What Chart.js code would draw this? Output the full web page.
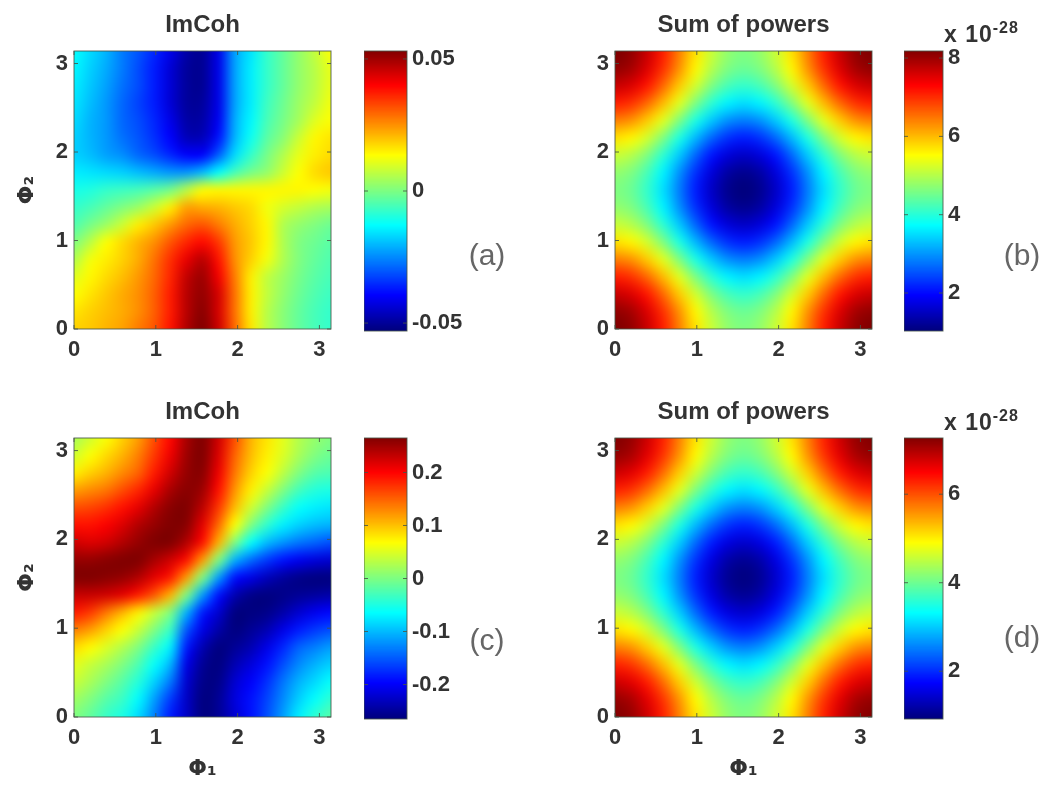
<!DOCTYPE html>
<html>
<head>
<meta charset="utf-8">
<title>ImCoh and sum of powers</title>
<script src="https://cdn.jsdelivr.net/npm/chart.js@4"></script>
<style>
    body { margin: 0; background: #fff; width: 1050px; height: 787px; position: relative; overflow: hidden; }
    canvas { position: absolute; filter: blur(0.6px); }
    .panelTag { position: absolute; font: 30px "Liberation Sans", Arial, sans-serif; color: #666; transform: translate(-50%, -50%); filter: blur(0.4px); }
    .expo { position: absolute; font: bold 23px "Liberation Sans", Arial, sans-serif; letter-spacing: 1px; color: #333; filter: blur(0.5px); }
    .expo sup { font-size: 16px; line-height: 0; }
</style>
</head>
<body>
<script>
// Grid nodes of the maps (phi, rows go from phi2 = 0 upwards)
const phiGrid = [0, 0.196, 0.393, 0.589, 0.785, 0.982, 1.178, 1.374, 1.571, 1.767, 1.963, 2.16, 2.356, 2.553, 2.749, 2.945, 3.142];
const phiTicks = [0, 1, 2, 3];

// Panel (a), ImCoh, in units of 0.001
const imCohA = [
    [18, 19, 21, 23, 27, 31, 38, 48, 53, 45, 29, 16, 6, 1, -3, -6, -8],
    [16, 18, 20, 22, 25, 30, 37, 47, 52, 44, 28, 15, 6, 1, -3, -6, -8],
    [13, 16, 19, 22, 25, 30, 37, 47, 51, 44, 28, 15, 7, 2, -2, -5, -7],
    [10, 14, 17, 20, 24, 29, 36, 46, 50, 41, 27, 15, 7, 3, -1, -4, -6],
    [5, 12, 15, 18, 22, 28, 35, 42, 47, 38, 25, 18, 12, 5, 0, -3, -5],
    [0, 6, 13, 17, 21, 25, 31, 36, 39, 34, 24, 19, 14, 5, 0, -2, -4],
    [-5, -1, 3, 8, 15, 19, 24, 29, 31, 27, 22, 18, 14, 5, 2, 0, -2],
    [-8, -6, -3, 0, 3, 8, 15, 23, 22, 21, 19, 17, 12, 9, 7, 5, 4],
    [-11, -10, -8, -7, -6, -4, -1, 6, 13, 14, 14, 14, 14, 14, 14, 13, 12],
    [-15, -16, -17, -18, -20, -22, -24, -24, -20, -13, -6, -1, 2, 8, 13, 17, 19],
    [-18, -20, -23, -25, -29, -32, -36, -40, -40, -30, -17, -8, -1, 5, 11, 15, 17],
    [-18, -21, -24, -28, -31, -35, -40, -47, -47, -38, -21, -12, -4, 1, 8, 14, 16],
    [-17, -21, -24, -29, -32, -36, -42, -49, -49, -41, -22, -14, -6, -1, 4, 10, 13],
    [-16, -20, -24, -29, -33, -37, -44, -50, -50, -42, -23, -15, -7, -2, 3, 7, 12],
    [-15, -19, -23, -28, -32, -37, -44, -50, -51, -42, -23, -15, -8, -3, 2, 6, 11],
    [-14, -18, -22, -27, -32, -37, -44, -50, -51, -42, -23, -15, -8, -3, 2, 6, 11],
    [-13, -17, -21, -27, -31, -36, -42, -49, -51, -42, -23, -16, -8, -3, 2, 7, 13]
];

// Panel (b), sum of powers, in units of 1e-28
const powerB = [
    [8.2, 8.06, 7.67, 7.09, 6.4, 5.71, 5.13, 4.74, 4.6, 4.74, 5.13, 5.71, 6.4, 7.09, 7.67, 8.06, 8.2],
    [8.06, 7.92, 7.53, 6.95, 6.26, 5.57, 4.99, 4.6, 4.46, 4.6, 4.99, 5.57, 6.26, 6.95, 7.53, 7.92, 8.06],
    [7.67, 7.53, 7.14, 6.56, 5.87, 5.18, 4.6, 4.21, 4.07, 4.21, 4.6, 5.18, 5.87, 6.56, 7.14, 7.53, 7.67],
    [7.09, 6.95, 6.56, 5.98, 5.29, 4.6, 4.02, 3.63, 3.49, 3.63, 4.02, 4.6, 5.29, 5.98, 6.56, 6.95, 7.09],
    [6.4, 6.26, 5.87, 5.29, 4.6, 3.91, 3.33, 2.94, 2.8, 2.94, 3.33, 3.91, 4.6, 5.29, 5.87, 6.26, 6.4],
    [5.71, 5.57, 5.18, 4.6, 3.91, 3.22, 2.64, 2.25, 2.11, 2.25, 2.64, 3.22, 3.91, 4.6, 5.18, 5.57, 5.71],
    [5.13, 4.99, 4.6, 4.02, 3.33, 2.64, 2.06, 1.67, 1.53, 1.67, 2.06, 2.64, 3.33, 4.02, 4.6, 4.99, 5.13],
    [4.74, 4.6, 4.21, 3.63, 2.94, 2.25, 1.67, 1.28, 1.14, 1.28, 1.67, 2.25, 2.94, 3.63, 4.21, 4.6, 4.74],
    [4.6, 4.46, 4.07, 3.49, 2.8, 2.11, 1.53, 1.14, 1.0, 1.14, 1.53, 2.11, 2.8, 3.49, 4.07, 4.46, 4.6],
    [4.74, 4.6, 4.21, 3.63, 2.94, 2.25, 1.67, 1.28, 1.14, 1.28, 1.67, 2.25, 2.94, 3.63, 4.21, 4.6, 4.74],
    [5.13, 4.99, 4.6, 4.02, 3.33, 2.64, 2.06, 1.67, 1.53, 1.67, 2.06, 2.64, 3.33, 4.02, 4.6, 4.99, 5.13],
    [5.71, 5.57, 5.18, 4.6, 3.91, 3.22, 2.64, 2.25, 2.11, 2.25, 2.64, 3.22, 3.91, 4.6, 5.18, 5.57, 5.71],
    [6.4, 6.26, 5.87, 5.29, 4.6, 3.91, 3.33, 2.94, 2.8, 2.94, 3.33, 3.91, 4.6, 5.29, 5.87, 6.26, 6.4],
    [7.09, 6.95, 6.56, 5.98, 5.29, 4.6, 4.02, 3.63, 3.49, 3.63, 4.02, 4.6, 5.29, 5.98, 6.56, 6.95, 7.09],
    [7.67, 7.53, 7.14, 6.56, 5.87, 5.18, 4.6, 4.21, 4.07, 4.21, 4.6, 5.18, 5.87, 6.56, 7.14, 7.53, 7.67],
    [8.06, 7.92, 7.53, 6.95, 6.26, 5.57, 4.99, 4.6, 4.46, 4.6, 4.99, 5.57, 6.26, 6.95, 7.53, 7.92, 8.06],
    [8.2, 8.06, 7.67, 7.09, 6.4, 5.71, 5.13, 4.74, 4.6, 4.74, 5.13, 5.71, 6.4, 7.09, 7.67, 8.06, 8.2]
];

// Panel (c), ImCoh, in units of 0.001
const imCohC = [
    [0, -16, -37, -53, -85, -133, -186, -228, -265, -254, -223, -191, -159, -117, -74, -42, -21],
    [16, 0, -21, -37, -69, -117, -170, -228, -265, -254, -217, -191, -164, -127, -90, -64, -42],
    [37, 21, 0, -21, -48, -90, -138, -223, -260, -260, -223, -201, -175, -138, -106, -85, -64],
    [53, 37, 21, 0, -27, -64, -106, -212, -254, -265, -239, -217, -191, -159, -127, -106, -90],
    [85, 69, 48, 27, 0, -37, -74, -186, -239, -265, -254, -239, -212, -180, -148, -133, -117],
    [133, 117, 90, 64, 37, 0, -37, -154, -212, -244, -265, -254, -239, -212, -186, -170, -159],
    [186, 170, 138, 106, 74, 37, 0, -106, -186, -223, -265, -265, -260, -244, -223, -207, -196],
    [228, 228, 223, 212, 186, 154, 106, 0, -117, -191, -239, -260, -265, -260, -254, -249, -244],
    [265, 265, 260, 254, 239, 212, 186, 117, 0, -117, -191, -212, -233, -249, -260, -265, -265],
    [254, 254, 260, 265, 265, 244, 223, 191, 117, 0, -106, -143, -170, -191, -207, -217, -223],
    [223, 217, 223, 239, 254, 265, 265, 239, 191, 106, 0, -64, -101, -122, -138, -148, -159],
    [191, 191, 201, 217, 239, 254, 265, 260, 212, 143, 64, 0, -42, -74, -90, -101, -106],
    [159, 164, 175, 191, 212, 239, 260, 265, 233, 170, 101, 42, 0, -37, -64, -74, -80],
    [117, 127, 138, 159, 180, 212, 244, 260, 249, 191, 122, 74, 37, 0, -32, -48, -53],
    [74, 90, 106, 127, 148, 186, 223, 254, 260, 207, 138, 90, 64, 32, 0, -21, -27],
    [42, 64, 85, 106, 133, 170, 207, 249, 265, 217, 148, 101, 74, 48, 21, 0, -11],
    [21, 42, 64, 90, 117, 159, 196, 244, 265, 223, 159, 106, 80, 53, 27, 11, 0]
];

// Panel (d), sum of powers, in units of 1e-28
const powerD = [
    [7.26, 7.13, 6.78, 6.28, 5.68, 5.07, 4.57, 4.22, 4.09, 4.22, 4.57, 5.07, 5.68, 6.28, 6.78, 7.13, 7.26],
    [7.13, 7.0, 6.65, 6.15, 5.55, 4.94, 4.44, 4.09, 3.96, 4.09, 4.44, 4.94, 5.55, 6.15, 6.65, 7.0, 7.13],
    [6.78, 6.65, 6.3, 5.8, 5.2, 4.59, 4.09, 3.74, 3.61, 3.74, 4.09, 4.59, 5.2, 5.8, 6.3, 6.65, 6.78],
    [6.28, 6.15, 5.8, 5.3, 4.7, 4.09, 3.59, 3.24, 3.11, 3.24, 3.59, 4.09, 4.7, 5.3, 5.8, 6.15, 6.28],
    [5.68, 5.55, 5.2, 4.7, 4.1, 3.49, 2.99, 2.64, 2.51, 2.64, 2.99, 3.49, 4.1, 4.7, 5.2, 5.55, 5.68],
    [5.07, 4.94, 4.59, 4.09, 3.49, 2.88, 2.38, 2.03, 1.9, 2.03, 2.38, 2.88, 3.49, 4.09, 4.59, 4.94, 5.07],
    [4.57, 4.44, 4.09, 3.59, 2.99, 2.38, 1.88, 1.53, 1.4, 1.53, 1.88, 2.38, 2.99, 3.59, 4.09, 4.44, 4.57],
    [4.22, 4.09, 3.74, 3.24, 2.64, 2.03, 1.53, 1.18, 1.05, 1.18, 1.53, 2.03, 2.64, 3.24, 3.74, 4.09, 4.22],
    [4.09, 3.96, 3.61, 3.11, 2.51, 1.9, 1.4, 1.05, 0.92, 1.05, 1.4, 1.9, 2.51, 3.11, 3.61, 3.96, 4.09],
    [4.22, 4.09, 3.74, 3.24, 2.64, 2.03, 1.53, 1.18, 1.05, 1.18, 1.53, 2.03, 2.64, 3.24, 3.74, 4.09, 4.22],
    [4.57, 4.44, 4.09, 3.59, 2.99, 2.38, 1.88, 1.53, 1.4, 1.53, 1.88, 2.38, 2.99, 3.59, 4.09, 4.44, 4.57],
    [5.07, 4.94, 4.59, 4.09, 3.49, 2.88, 2.38, 2.03, 1.9, 2.03, 2.38, 2.88, 3.49, 4.09, 4.59, 4.94, 5.07],
    [5.68, 5.55, 5.2, 4.7, 4.1, 3.49, 2.99, 2.64, 2.51, 2.64, 2.99, 3.49, 4.1, 4.7, 5.2, 5.55, 5.68],
    [6.28, 6.15, 5.8, 5.3, 4.7, 4.09, 3.59, 3.24, 3.11, 3.24, 3.59, 4.09, 4.7, 5.3, 5.8, 6.15, 6.28],
    [6.78, 6.65, 6.3, 5.8, 5.2, 4.59, 4.09, 3.74, 3.61, 3.74, 4.09, 4.59, 5.2, 5.8, 6.3, 6.65, 6.78],
    [7.13, 7.0, 6.65, 6.15, 5.55, 4.94, 4.44, 4.09, 3.96, 4.09, 4.44, 4.94, 5.55, 6.15, 6.65, 7.0, 7.13],
    [7.26, 7.13, 6.78, 6.28, 5.68, 5.07, 4.57, 4.22, 4.09, 4.22, 4.57, 5.07, 5.68, 6.28, 6.78, 7.13, 7.26]
];

// Colour bar ranges and ticks
const rangeA = [-53, 53];
const rangeB = [1.03, 8.18];
const rangeC = [-265, 265];
const rangeD = [0.92, 7.27];
const cbarTicksA = [-50, 0, 50];
const cbarTicksB = [2, 4, 6, 8];
const cbarTicksC = [-200, -100, 0, 100, 200];
const cbarTicksD = [2, 4, 6];

const tickFont = { family: '"Liberation Sans", Arial, sans-serif', size: 22, weight: 'bold' };
const phiFont = { family: '"DejaVu Sans"', size: 22, weight: 'bold' };
const textColor = '#333';
const frameColor = 'rgba(70, 85, 70, 0.85)';
const colorLevels = 256;

function jet(t) {
    const c = v => Math.round(255 * Math.min(1, Math.max(0, v)));
    return `rgb(${c(1.5 - Math.abs(4 * t - 3))},${c(1.5 - Math.abs(4 * t - 2))},${c(1.5 - Math.abs(4 * t - 1))})`;
}

function addCanvas(left, top, width, height) {
    const canvas = document.createElement('canvas');
    canvas.width = width;
    canvas.height = height;
    canvas.style.left = left + 'px';
    canvas.style.top = top + 'px';
    canvas.style.width = width + 'px';
    canvas.style.height = height + 'px';
    document.body.appendChild(canvas);
    return canvas;
}

// Frame with short inward ticks, matlab style
const framePlugin = {
    id: 'frame',
    afterDatasetsDraw(chart) {
        const { ctx, chartArea: a, scales } = chart;
        ctx.save();
        ctx.strokeStyle = frameColor;
        ctx.lineWidth = 1;
        ctx.strokeRect(a.left, a.top, a.right - a.left, a.bottom - a.top);
        ctx.beginPath();
        scales.y.ticks.forEach(t => {
            const y = scales.y.getPixelForValue(t.value);
            ctx.moveTo(a.left, y); ctx.lineTo(a.left + 4, y);
            ctx.moveTo(a.right, y); ctx.lineTo(a.right - 4, y);
        });
        if (scales.x.type === 'linear') {
            scales.x.ticks.forEach(t => {
                const x = scales.x.getPixelForValue(t.value);
                ctx.moveTo(x, a.bottom); ctx.lineTo(x, a.bottom - 4);
                ctx.moveTo(x, a.top); ctx.lineTo(x, a.top + 4);
            });
        }
        ctx.stroke();
        ctx.restore();
    }
};

// Interpolated shading: takes the cells the library placed and blends their colours
const smoothPlugin = {
    id: 'smooth',
    afterDatasetsDraw(chart) {
        const { ctx, chartArea: a } = chart;
        const cells = chart.getDatasetMeta(0).data;
        const n = phiGrid.length;
        const small = document.createElement('canvas');
        small.width = n;
        small.height = n;
        const sctx = small.getContext('2d');
        cells.forEach((el, k) => {
            sctx.fillStyle = el.options.backgroundColor;
            sctx.fillRect(k % n, n - 1 - Math.floor(k / n), 1, 1);
        });
        const first = cells[0];
        const last = cells[cells.length - 1];
        const dx = (last.x - first.x) / (n - 1);
        const dy = (first.y - last.y) / (n - 1);
        ctx.save();
        ctx.beginPath();
        ctx.rect(a.left, a.top, a.right - a.left, a.bottom - a.top);
        ctx.clip();
        ctx.imageSmoothingEnabled = true;
        ctx.imageSmoothingQuality = 'high';
        ctx.filter = 'blur(1.5px)';
        ctx.drawImage(small, first.x - dx / 2, last.y - dy / 2, dx * n, dy * n);
        ctx.restore();
    }
};

function fixTicks(values) {
    return scale => { scale.ticks = values.map(v => ({ value: v })); };
}

function heatMap(left, top, height, axisHeight, title, grid, range, yTitle, xTitle) {
    const points = [];
    grid.forEach((row, j) => row.forEach((value, i) => {
        points.push({ x: phiGrid[i], y: phiGrid[j], v: value });
    }));
    new Chart(addCanvas(left, top, 345, height), {
        type: 'scatter',
        data: {
            datasets: [{
                data: points,
                clip: 0,
                pointStyle: 'rect',
                pointBorderWidth: 0,
                backgroundColor: c => jet((c.raw.v - range[0]) / (range[1] - range[0])),
                pointRadius: c => {
                    const s = c.chart.scales;
                    const dx = Math.abs(s.x.getPixelForValue(phiGrid[1]) - s.x.getPixelForValue(0));
                    const dy = Math.abs(s.y.getPixelForValue(phiGrid[1]) - s.y.getPixelForValue(0));
                    return (Math.max(dx, dy) / 2 + 1) / Math.SQRT1_2;
                }
            }]
        },
        options: {
            responsive: false,
            animation: false,
            events: [],
            layout: { padding: { right: 14 } },
            plugins: {
                legend: { display: false },
                tooltip: { enabled: false },
                title: {
                    display: true,
                    fullSize: false,
                    text: title,
                    color: textColor,
                    font: { family: tickFont.family, size: 24, weight: 'bold', lineHeight: '26px' },
                    padding: { top: 12, bottom: 13 }
                }
            },
            scales: {
                x: {
                    type: 'linear', min: 0, max: Math.PI,
                    grid: { display: false, drawTicks: false }, border: { display: false },
                    afterBuildTicks: fixTicks(phiTicks),
                    afterFit: s => { s.height = axisHeight; },
                    ticks: { font: tickFont, color: textColor, padding: 8, maxRotation: 0, callback: v => v },
                    title: { display: !!xTitle, text: xTitle, color: textColor, font: phiFont, padding: { top: 2, bottom: 0 } }
                },
                y: {
                    type: 'linear', min: 0, max: Math.PI,
                    grid: { display: false, drawTicks: false }, border: { display: false },
                    afterBuildTicks: fixTicks(phiTicks),
                    afterFit: s => { s.width = 74; },
                    ticks: { font: tickFont, color: textColor, padding: 6, callback: v => v },
                    title: { display: !!yTitle, text: yTitle, color: textColor, font: phiFont, padding: { top: 14, bottom: 0 } }
                }
            }
        },
        plugins: [smoothPlugin, framePlugin]
    });
}

function colorBar(left, top, height, range, ticks, barWidth, format) {
    const step = (range[1] - range[0]) / colorLevels;
    const bands = [];
    for (let k = 0; k < colorLevels; k++) {
        bands.push({
            data: [[range[0] + k * step, range[0] + (k + 1.5) * step]],
            backgroundColor: jet((k + 0.5) / colorLevels),
            grouped: false,
            barPercentage: 1,
            categoryPercentage: 1,
            borderWidth: 0
        });
    }
    new Chart(addCanvas(left, top, 125, height), {
        type: 'bar',
        data: { labels: [''], datasets: bands },
        options: {
            responsive: false,
            animation: false,
            events: [],
            layout: { padding: { top: 51, bottom: 20 } },
            plugins: { legend: { display: false }, tooltip: { enabled: false }, title: { display: false } },
            scales: {
                x: { display: false },
                y: {
                    position: 'right',
                    min: range[0], max: range[1],
                    grid: { display: false, drawTicks: false }, border: { display: false },
                    afterBuildTicks: fixTicks(ticks),
                    afterFit: s => { s.width = 125 - barWidth; },
                    ticks: { font: tickFont, color: textColor, padding: 5, callback: format }
                }
            }
        },
        plugins: [framePlugin]
    });
}

function addText(cls, left, top, html) {
    const el = document.createElement('div');
    el.className = cls;
    el.style.left = left + 'px';
    el.style.top = top + 'px';
    el.innerHTML = html;
    document.body.appendChild(el);
}

const milli = v => String(v / 1000);
const plain = v => String(v);

heatMap(0, 0, 369, 40, 'ImCoh', imCohA, rangeA, 'Φ₂', '');
colorBar(364, 0, 351, rangeA, cbarTicksA, 43, milli);
heatMap(541, 0, 369, 40, 'Sum of powers', powerB, rangeB, '', '');
colorBar(904, 0, 351, rangeB, cbarTicksB, 39, plain);
heatMap(0, 387, 395, 65, 'ImCoh', imCohC, rangeC, 'Φ₂', 'Φ₁');
colorBar(364, 387, 352, rangeC, cbarTicksC, 43, milli);
heatMap(541, 387, 395, 65, 'Sum of powers', powerD, rangeD, '', 'Φ₁');
colorBar(904, 387, 352, rangeD, cbarTicksD, 39, plain);

addText('panelTag', 487, 255, '(a)');
addText('panelTag', 1022, 255, '(b)');
addText('panelTag', 487, 640, '(c)');
addText('panelTag', 1022, 637, '(d)');
addText('expo', 944, 21, 'x 10<sup>-28</sup>');
addText('expo', 944, 409, 'x 10<sup>-28</sup>');
</script>
</body>
</html>
